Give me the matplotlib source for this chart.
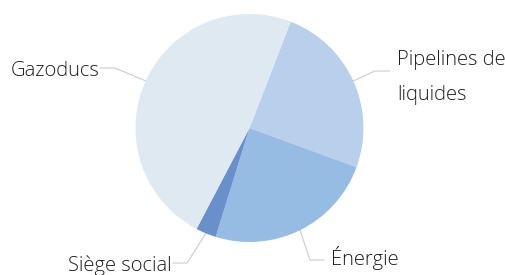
import numpy as np
import matplotlib.pyplot as plt

# parts of the pie, clockwise from the top-right
labels = ['Pipelines de\nliquides', 'Énergie', 'Siège social', 'Gazoducs']
values = [24.7, 24.2, 2.9, 48.2]
colors = ['#b8d0ec', '#97bce4', '#6a90cc', '#dfe9f2']

plt.rcParams['font.family'] = ['Open Sans', 'DejaVu Sans']

W, H = 505, 275
fig = plt.figure(figsize=(W / 100, H / 100), dpi=100)
ax = fig.add_axes([0, 0, 1, 1])

cx, cy, R = 249.5, H - 128, 114
start = 90 - 21.2
wedges, _ = ax.pie(values, colors=colors, startangle=start, counterclock=False,
                   center=(cx, cy), radius=R, frame=True,
                   wedgeprops=dict(linewidth=0))
ax.set_xlim(0, W)
ax.set_ylim(0, H)
ax.axis('off')

# leader elbow and label anchor (pixel coords from the top)
elbows = [(375, 71), (310, 260), (187, 263), (115, 68)]
ends = [(390, 71), (324, 260), (173, 263), (100, 68)]
text_pos = [(397, 65, 'left'), (331, 265.5, 'left'), (171.5, 271.5, 'right'), (100, 76.5, 'right')]

for w, lab, el, en, tp in zip(wedges, labels, elbows, ends, text_pos):
    mid = np.deg2rad((w.theta1 + w.theta2) / 2)
    px, py = cx + R * np.cos(mid), cy + R * np.sin(mid)
    ax.plot([px, el[0], en[0]], [py, H - el[1], H - en[1]],
            color='#cccccc', lw=0.8, zorder=0)
    for i, part in enumerate(lab.split('\n')):
        ax.text(tp[0], H - tp[1] - 35 * i, part, ha=tp[2], va='baseline',
                fontsize=14.5, fontweight='light', color='#1e1e1e')

fig.savefig('out.png', dpi=100, facecolor='white')
